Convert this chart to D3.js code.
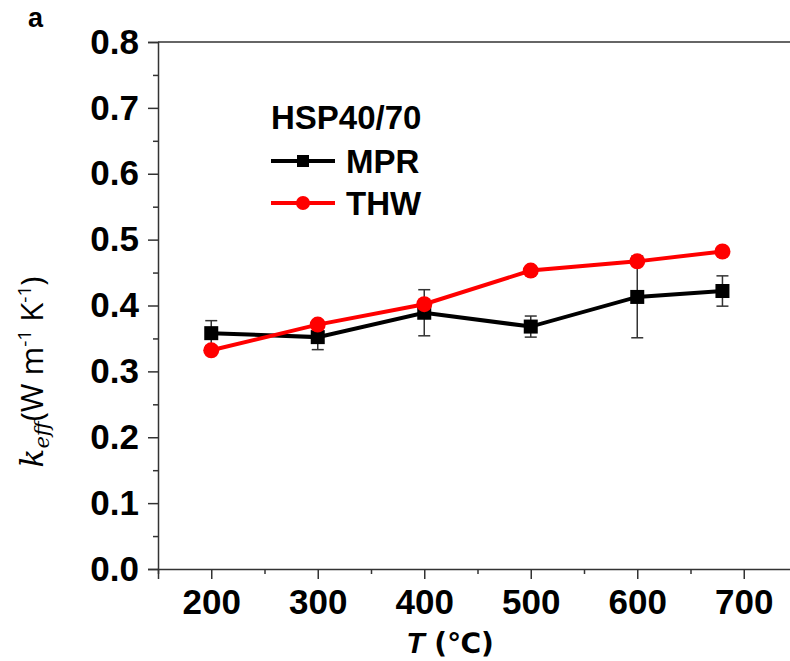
<!DOCTYPE html>
<html>
<head>
<meta charset="utf-8">
<script src="https://cdn.jsdelivr.net/npm/d3@7"></script>
<style>
  body { margin: 0; background: #fff; }
  svg { display: block; }
</style>
</head>
<body>
<svg id="chart"></svg>
<script>
// data
var temps = [200, 300, 400, 500, 600, 680]
var mprValues = [0.358, 0.352, 0.389, 0.368, 0.413, 0.422]
var mprErrors = [0.019, 0.019, 0.035, 0.016, 0.062, 0.023]
var thwValues = [0.332, 0.371, 0.402, 0.453, 0.467, 0.482]
var xTicks = [200, 300, 400, 500, 600, 700]
var yTicks = [0.0, 0.1, 0.2, 0.3, 0.4, 0.5, 0.6, 0.7, 0.8]

const W = 790, H = 661;
const svg = d3.select("#chart").attr("width", W).attr("height", H);

// scales
const xScale = d3.scaleLinear().domain([150, 750]).range([158, 797]);
const yScale = d3.scaleLinear().domain([0, 0.8]).range([569, 42]);

const fontBold = "'Liberation Sans', Arial, sans-serif";

// top frame line
svg.append("line")
  .attr("x1", xScale(150)).attr("x2", xScale(750))
  .attr("y1", yScale(0.8)).attr("y2", yScale(0.8))
  .attr("stroke", "#333").attr("stroke-width", 1.5);

// y axis
svg.append("g")
  .attr("transform", `translate(${xScale(150)},0)`)
  .call(d3.axisLeft(yScale).tickValues(yTicks).tickFormat(d3.format(".1f"))
        .tickSize(10).tickPadding(9));
// y minor ticks
svg.append("g")
  .attr("transform", `translate(${xScale(150)},0)`)
  .call(d3.axisLeft(yScale).tickValues(d3.range(0.05, 0.8, 0.1)).tickSize(5).tickFormat(""))
  .select(".domain").remove();

// x axis
svg.append("g")
  .attr("transform", `translate(0,${yScale(0)})`)
  .call(d3.axisBottom(xScale).tickValues(xTicks).tickSize(10).tickPadding(10));
svg.append("g")
  .attr("transform", `translate(0,${yScale(0)})`)
  .call(d3.axisBottom(xScale).tickValues([150, 250, 350, 450, 550, 650, 750]).tickSize(5).tickFormat(""))
  .select(".domain").remove();

svg.selectAll(".domain").attr("stroke", "#333").attr("stroke-width", 1.5);
svg.selectAll(".tick line").attr("stroke", "#333").attr("stroke-width", 1.5);
svg.selectAll(".tick text")
  .attr("font-family", fontBold).attr("font-weight", "bold")
  .attr("font-size", "35px").attr("fill", "#000");

// error bars for MPR
const mprData = temps.map((t, i) => ({ t: t, v: mprValues[i], e: mprErrors[i] }));
const thwData = temps.map((t, i) => ({ t: t, v: thwValues[i] }));

const err = svg.append("g");
mprData.forEach(d => {
  const x = xScale(d.t);
  err.append("line").attr("x1", x).attr("x2", x)
    .attr("y1", yScale(d.v - d.e)).attr("y2", yScale(d.v + d.e))
    .attr("stroke", "#333").attr("stroke-width", 1.5);
  [d.v - d.e, d.v + d.e].forEach(v => {
    err.append("line").attr("x1", x - 6).attr("x2", x + 6)
      .attr("y1", yScale(v)).attr("y2", yScale(v))
      .attr("stroke", "#333").attr("stroke-width", 1.5);
  });
});

// lines
const line = d3.line().x(d => xScale(d.t)).y(d => yScale(d.v));
svg.append("path").datum(mprData).attr("d", line)
  .attr("fill", "none").attr("stroke", "#000").attr("stroke-width", 4);
svg.append("path").datum(thwData).attr("d", line)
  .attr("fill", "none").attr("stroke", "#ff0000").attr("stroke-width", 4);

// markers
svg.selectAll(".sq").data(mprData).enter().append("rect")
  .attr("x", d => xScale(d.t) - 7).attr("y", d => yScale(d.v) - 7)
  .attr("width", 14).attr("height", 14).attr("fill", "#000");
svg.selectAll(".ci").data(thwData).enter().append("circle")
  .attr("cx", d => xScale(d.t)).attr("cy", d => yScale(d.v))
  .attr("r", 8).attr("fill", "#ff0000");

// legend
const legend = svg.append("g");
legend.append("text").attr("x", 271).attr("y", 129)
  .attr("font-family", fontBold).attr("font-weight", "bold").attr("font-size", "33px")
  .text("HSP40/70");
legend.append("line").attr("x1", 271).attr("x2", 335).attr("y1", 161).attr("y2", 161)
  .attr("stroke", "#000").attr("stroke-width", 4);
legend.append("rect").attr("x", 297).attr("y", 155).attr("width", 12).attr("height", 12).attr("fill", "#000");
legend.append("text").attr("x", 346).attr("y", 173)
  .attr("font-family", fontBold).attr("font-weight", "bold").attr("font-size", "33px")
  .text("MPR");
legend.append("line").attr("x1", 271).attr("x2", 335).attr("y1", 203).attr("y2", 203)
  .attr("stroke", "#ff0000").attr("stroke-width", 4);
legend.append("circle").attr("cx", 303).attr("cy", 203).attr("r", 7).attr("fill", "#ff0000");
legend.append("text").attr("x", 346).attr("y", 215)
  .attr("font-family", fontBold).attr("font-weight", "bold").attr("font-size", "33px")
  .text("THW");

// x axis label
const xl = svg.append("text").attr("x", 450).attr("y", 653)
  .attr("text-anchor", "middle").attr("font-size", "30px");
xl.append("tspan").attr("font-family", fontBold).attr("font-weight", "bold")
  .attr("font-style", "italic").text("T");
xl.append("tspan").attr("font-family", "'DejaVu Sans', sans-serif").attr("font-weight", "bold")
  .attr("font-size", "28px").text(" (℃)");

// y axis label
const yl = svg.append("text")
  .attr("transform", "translate(43,372) rotate(-90)")
  .attr("text-anchor", "middle").attr("font-size", "31px")
  .attr("font-family", "'Open Sans', sans-serif");
yl.append("tspan").attr("font-family", "'DejaVu Serif', serif").attr("font-style", "italic").text("k");
yl.append("tspan").attr("font-family", "'DejaVu Serif', serif").attr("font-style", "italic")
  .attr("font-size", "21px").attr("dy", 6).text("eff");
yl.append("tspan").attr("dy", -6).text("(W m");
yl.append("tspan").attr("font-size", "19px").attr("dy", -12).text("-1");
yl.append("tspan").attr("dy", 12).text(" K");
yl.append("tspan").attr("font-size", "19px").attr("dy", -12).text("-1");
yl.append("tspan").attr("dy", 12).text(")");

// panel label
svg.append("text").attr("x", 28).attr("y", 27)
  .attr("font-family", fontBold).attr("font-weight", "bold").attr("font-size", "27px")
  .text("a");
</script>
</body>
</html>
